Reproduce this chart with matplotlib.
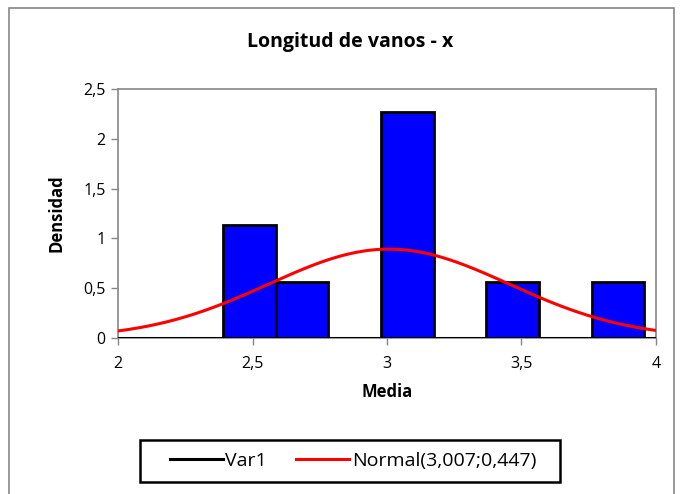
import numpy as np
import matplotlib.pyplot as plt
from matplotlib.patches import Rectangle
from matplotlib.ticker import FuncFormatter, MultipleLocator

plt.rcParams['font.family'] = ['Open Sans', 'DejaVu Sans']

# histogram bins (left edges, common width) and densities
bin_left = [2.390, 2.586, 2.978, 3.369, 3.761]
bin_width = 0.196
density = [1.134, 0.567, 2.268, 0.567, 0.567]

# fitted normal
mu, sigma = 3.007, 0.447

fig = plt.figure(figsize=(6.8, 4.94), dpi=100)
ax = fig.add_axes([118 / 680, 1 - 338 / 494, 538 / 680, 249 / 494])

ax.bar(bin_left, density, width=bin_width, align='edge', color='#0000FF',
       edgecolor='black', linewidth=2, zorder=2)

xs = np.linspace(2, 4, 300)
pdf = np.exp(-0.5 * ((xs - mu) / sigma) ** 2) / (sigma * np.sqrt(2 * np.pi))
ax.axhline(0, color='black', lw=2.2, zorder=3, label='Var1')
ax.plot(xs, pdf, color='red', lw=2.2, zorder=4,
        label='Normal(3,007;0,447)')

ax.set_xlim(2, 4)
ax.set_ylim(0, 2.5)
ax.xaxis.set_major_locator(MultipleLocator(0.5))
ax.yaxis.set_major_locator(MultipleLocator(0.5))
fmt = FuncFormatter(lambda v, p: ('%g' % v).replace('.', ','))
ax.xaxis.set_major_formatter(fmt)
ax.yaxis.set_major_formatter(fmt)
ax.tick_params(length=5, width=1, color='#868686', labelsize=11.5,
               labelcolor='black')
ax.tick_params(axis='x', pad=8)
ax.tick_params(axis='y', pad=4)
for s in ax.spines.values():
    s.set_color('#868686')
    s.set_linewidth(1.2)

ax.set_xlabel('Media', fontsize=12, fontweight='bold', labelpad=8)
ax.set_ylabel('Densidad', fontsize=12, fontweight='bold')
ax.yaxis.set_label_coords(-0.097, 0.5)
fig.text(350 / 680, 1 - 42 / 494, 'Longitud de vanos - x', fontsize=14,
         fontweight='bold', ha='center', va='center')

leg = fig.legend(loc='center', bbox_to_anchor=(353 / 680, 1 - 461 / 494),
                 ncol=2, fontsize=14, frameon=False, handlelength=2.7,
                 handletextpad=0.15, columnspacing=1.5, borderpad=0,
                 borderaxespad=0)

# legend box
fig.patches.append(Rectangle((140 / 680, 1 - 482 / 494), 420 / 680, 42 / 494,
                             transform=fig.transFigure, fill=False,
                             edgecolor='black', lw=1.8))

# chart border
fig.patches.append(Rectangle((9 / 680, -0.1), 665 / 680, 1.1 - 8 / 494,
                             transform=fig.transFigure, fill=False,
                             edgecolor='#868686', lw=1.2))

fig.savefig('out.png', dpi=100)
